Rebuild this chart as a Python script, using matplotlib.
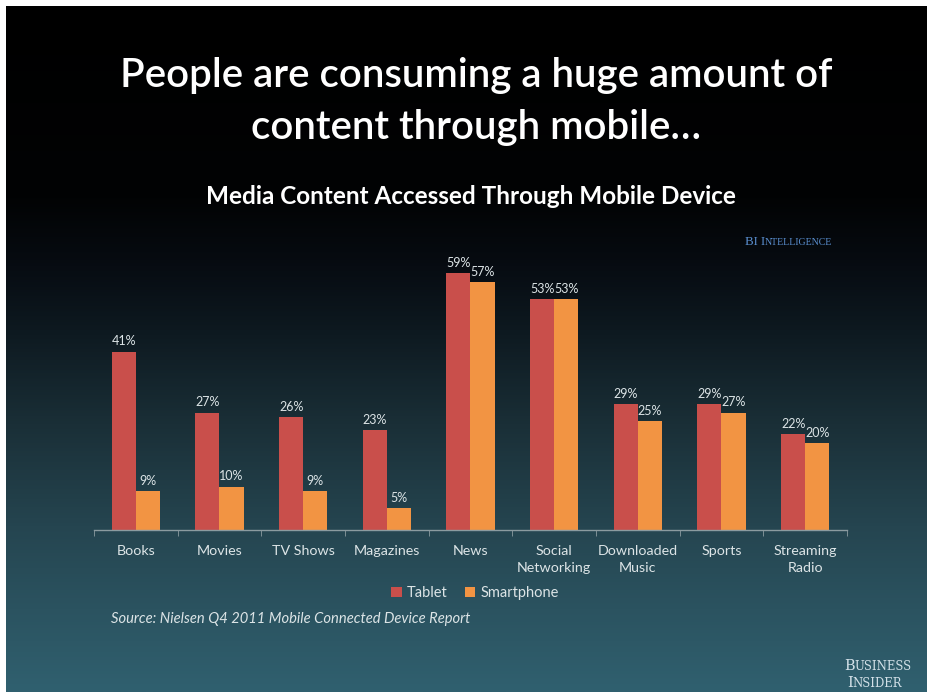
import numpy as np
import matplotlib
matplotlib.use("Agg")
import matplotlib.pyplot as plt
from matplotlib.colors import LinearSegmentedColormap

categories = ["Books", "Movies", "TV Shows", "Magazines", "News",
              "Social\nNetworking", "Downloaded\nMusic", "Sports", "Streaming\nRadio"]
tablet = [41, 27, 26, 23, 59, 53, 29, 29, 22]
smartphone = [9, 10, 9, 5, 57, 53, 25, 27, 20]
series_names = ["Tablet", "Smartphone"]

W, H = 928, 692
DPI = 100
TABLET_C = "#c94f4b"
PHONE_C = "#f29443"
LABEL_C = "#dce4e6"
FONT = "Lato"

fig = plt.figure(figsize=(W / DPI, H / DPI), dpi=DPI, facecolor="white")

# slide background: black fading into dark teal
bg = fig.add_axes([6 / W, 0, 1 - 6 / W, 1 - 6 / H])
stops = [(0.0, "#000000"), (0.28, "#020304"), (0.38, "#070c12"),
         (0.48, "#0e1a21"), (0.61, "#1a2f37"), (0.76, "#254550"),
         (0.88, "#2b5360"), (1.0, "#30606f")]
cmap = LinearSegmentedColormap.from_list("slide", stops)
grad = np.linspace(0, 1, 512).reshape(-1, 1)
bg.imshow(grad, aspect="auto", cmap=cmap, extent=[0, 1, 0, 1], origin="upper")
bg.set_axis_off()

# chart area
x0, x1, ybase, ytop = 94, 847, 530, 225.5
ax = fig.add_axes([x0 / W, (H - ybase) / H, (x1 - x0) / W, (ybase - ytop) / H])
ax.patch.set_alpha(0)
x = np.arange(len(categories))
bw = 0.287
b1 = ax.bar(x - bw / 2, tablet, bw, color=TABLET_C, label=series_names[0])
b2 = ax.bar(x + bw / 2, smartphone, bw, color=PHONE_C, label=series_names[1])
for bars, vals in ((b1, tablet), (b2, smartphone)):
    ax.bar_label(bars, labels=[f"{v}%" for v in vals], padding=3,
                 color=LABEL_C, fontsize=9, family=FONT)

ax.set_xlim(-0.5, len(categories) - 0.5)
ax.set_ylim(0, 70)
for s in ("top", "left", "right"):
    ax.spines[s].set_visible(False)
ax.spines["bottom"].set_color("#8b9ba0")
ax.spines["bottom"].set_linewidth(1)
ax.set_yticks([])
ax.set_xticks(x)
ax.set_xticklabels(categories, color=LABEL_C, fontsize=10.3, family=FONT,
                   linespacing=1.45)
ax.tick_params(axis="x", which="major", length=0, pad=11)
ax.set_xticks(np.arange(-0.5, len(categories), 1), minor=True)
ax.tick_params(axis="x", which="minor", length=4, color="#8b9ba0", direction="out")

leg = ax.legend(ncol=2, loc="center", bbox_to_anchor=(475 / W, 1 - 593 / H),
                bbox_transform=fig.transFigure, frameon=False,
                handlelength=0.7, handleheight=0.7, handletextpad=0.35,
                columnspacing=1.2, prop={"family": FONT, "size": 10.5})
for t in leg.get_texts():
    t.set_color(LABEL_C)

# titles
fig.text(476 / W, 1 - 76 / H, "People are consuming a huge amount of",
         ha="center", va="center", color="white", fontsize=29, family=FONT,
         fontweight="semibold")
fig.text(476 / W, 1 - 127 / H, "content through mobile…",
         ha="center", va="center", color="white", fontsize=29, family=FONT,
         fontweight="semibold")
fig.text(471 / W, 1 - 196 / H, "Media Content Accessed Through Mobile Device",
         ha="center", va="center", color="white", fontsize=17.5, family=FONT,
         fontweight="bold")

fig.text(111 / W, 1 - 619 / H, "Source: Nielsen Q4 2011 Mobile Connected Device Report",
         ha="left", va="center", color=LABEL_C, fontsize=10.6, family=FONT,
         style="italic")

renderer = fig.canvas.get_renderer()


def small_caps(parts, x_px, y_px, color, family):
    """Draw a run of (text, size) pieces side by side on a shared baseline."""
    widths = []
    for txt, size in parts:
        t = fig.text(0, 0, txt, fontsize=size, family=family)
        widths.append(t.get_window_extent(renderer).width)
        t.remove()
    cur = x_px
    for (txt, size), w in zip(parts, widths):
        fig.text(cur / W, 1 - y_px / H, txt, fontsize=size, color=color,
                 family=family, ha="left", va="baseline")
        cur += w


small_caps([("BI I", 9.3), ("NTELLIGENCE", 7.1)], 745, 245, "#5a8fd0",
           "Liberation Serif")
small_caps([("B", 10.5), ("USINESS", 8.4)], 844, 670, "#d3e1e8", "DejaVu Serif")
small_caps([("I", 10.5), ("NSIDER", 8.4)], 847, 687, "#d3e1e8", "DejaVu Serif")

fig.savefig("out.png", dpi=DPI, facecolor=fig.get_facecolor())
